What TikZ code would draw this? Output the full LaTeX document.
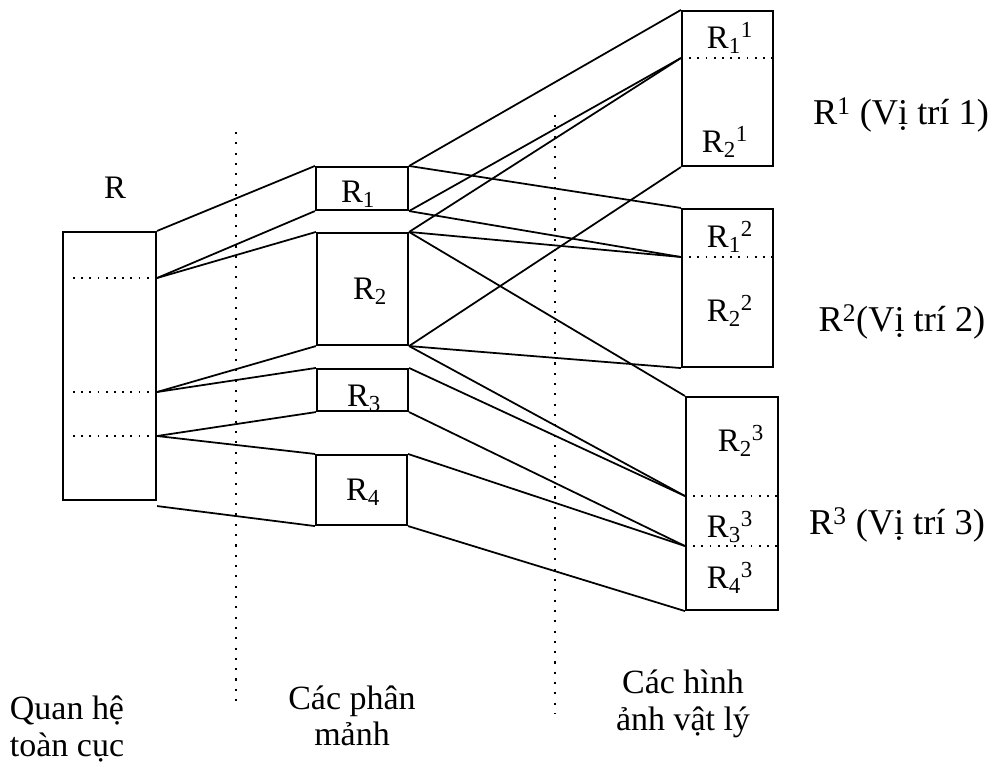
\documentclass[tikz,border=0pt]{standalone}
\usepackage{fontspec}
\setmainfont{Liberation Serif}
\usetikzlibrary{positioning,calc}
\newdimen\pxu
\pxu=0.03cm
\tikzset{
  link/.style={draw=black,line width=1.5pt},
  box/.style={draw=black,line width=1.8pt,inner sep=0pt,fill=none},
  cut/.style={draw=black,line width=1.8pt,dash pattern=on 1.5pt off 5.5pt},
  sep/.style={draw=black,line width=2pt,dash pattern=on 1.8pt off 7pt},
  rlab/.style={font=\fontsize{28}{30}\selectfont,inner sep=0pt},
  site/.style={font=\fontsize{31}{33}\selectfont,inner sep=0pt},
  caption/.style={font=\fontsize{29}{31}\selectfont,align=center,inner sep=0pt}
}

\begin{document}
\begin{tikzpicture}[x=0.03cm,y=-0.03cm]
  \useasboundingbox (0,0) rectangle (1001,776);
  % global relation
  \node[box,minimum width=93\pxu,minimum height=268\pxu] (R) at (109.5,366) {};
  \node[rlab] (Rlab) at (115,188) {R};
  % fragments
  \node[box,minimum width=92\pxu,minimum height=43\pxu] (R1) at (362,188.5) {};
  \node[box,minimum width=91\pxu,minimum height=112\pxu] (R2) at (362.5,289) {};
  \node[box,minimum width=91\pxu,minimum height=42\pxu] (R3) at (362.5,390) {};
  \node[box,minimum width=91\pxu,minimum height=70\pxu] (R4) at (361.5,490) {};
  \node[rlab] at (358,194) {R\textsubscript{1}};
  \node[rlab] at (370,291) {R\textsubscript{2}};
  \node[rlab] at (364,398) {R\textsubscript{3}};
  \node[rlab] at (363,492) {R\textsubscript{4}};
  % physical images
  \node[box,minimum width=91\pxu,minimum height=155\pxu] (B1) at (727.5,88.5) {};
  \node[box,minimum width=91\pxu,minimum height=158\pxu] (B2) at (727.5,288) {};
  \node[box,minimum width=92\pxu,minimum height=213\pxu] (B3) at (732,503.5) {};
  \node[rlab] at (730,38) {R\textsubscript{1}\textsuperscript{1}};
  \node[rlab] at (725,142) {R\textsubscript{2}\textsuperscript{1}};
  \node[rlab] at (730,237) {R\textsubscript{1}\textsuperscript{2}};
  \node[rlab] at (730,311) {R\textsubscript{2}\textsuperscript{2}};
  \node[rlab] at (741,441) {R\textsubscript{2}\textsuperscript{3}};
  \node[rlab] at (730,527) {R\textsubscript{3}\textsuperscript{3}};
  \node[rlab] at (730,578) {R\textsubscript{4}\textsuperscript{3}};
  \node[site] (site1) at (901,115) {R\textsuperscript{1} (Vị trí 1)};
  \node[site] (site2) at (902,322) {R\textsuperscript{2}(Vị trí 2)};
  \node[site] (site3) at (897,525) {R\textsuperscript{3} (Vị trí 3)};
  % split points
  \coordinate (Ra) at (R.east |- 0,278);
  \coordinate (Rb) at (R.east |- 0,392);
  \coordinate (Rc) at (R.east |- 0,436);
  \coordinate (B1a) at (B1.west |- 0,58);
  \coordinate (B2a) at (B2.west |- 0,257);
  \coordinate (B3a) at (B3.west |- 0,496);
  \coordinate (B3b) at (B3.west |- 0,546);
  \draw[cut] (73,278) -- (150,278);
  \draw[cut] (73,392) -- (150,392);
  \draw[cut] (73,436) -- (150,436);
  \draw[cut] (B1a) -- (B1.east |- B1a);
  \draw[cut] (B2a) -- (B2.east |- B2a);
  \draw[cut] (B3a) -- (B3.east |- B3a);
  \draw[cut] (B3b) -- (B3.east |- B3b);
  % column separators
  \coordinate (s1top) at (236,132);
  \coordinate (s1bot) at (236,702);
  \coordinate (s2top) at (555,115);
  \coordinate (s2bot) at (555,713);
  \draw[sep] (s1top) -- (s1bot);
  \draw[sep] (s2top) -- (s2bot);
  % relation -> fragments
  \draw[link] (R.north east) -- (R1.north west);
  \draw[link] (Ra) -- (R1.south west);
  \draw[link] (Ra) -- (R2.north west);
  \draw[link] (Rb) -- (R2.south west);
  \draw[link] (Rb) -- (R3.north west);
  \draw[link] (Rc) -- (R3.south west);
  \draw[link] (Rc) -- (R4.north west);
  \draw[link] ([yshift=-5\pxu]R.south east) -- (R4.south west);
  % fragments -> images
  \draw[link] (R1.north east) -- (B1.north west);
  \draw[link] (R1.north east) -- (B2.north west);
  \draw[link] (R1.south east) -- (B1a);
  \draw[link] (R1.south east) -- (B2a);
  \draw[link] (R2.north east) -- (B1a);
  \draw[link] (R2.north east) -- (B2a);
  \draw[link] (R2.north east) -- (B3.north west);
  \draw[link] (R2.south east) -- (B1.south west);
  \draw[link] (R2.south east) -- (B2.south west);
  \draw[link] (R2.south east) -- (B3a);
  \draw[link] (R3.north east) -- (B3a);
  \draw[link] (R3.south east) -- (B3b);
  \draw[link] (R4.north east) -- (B3b);
  \draw[link] (R4.south east) -- (B3.south west);
  % captions
  \node[caption] (cap1) at (67,729) {Quan hệ\\toàn cục};
  \node[caption] (cap2) at (352,716) {Các phân\\mảnh};
  \node[caption] (cap3) at (683,704) {Các hình\\ảnh vật lý};
\end{tikzpicture}
\end{document}
